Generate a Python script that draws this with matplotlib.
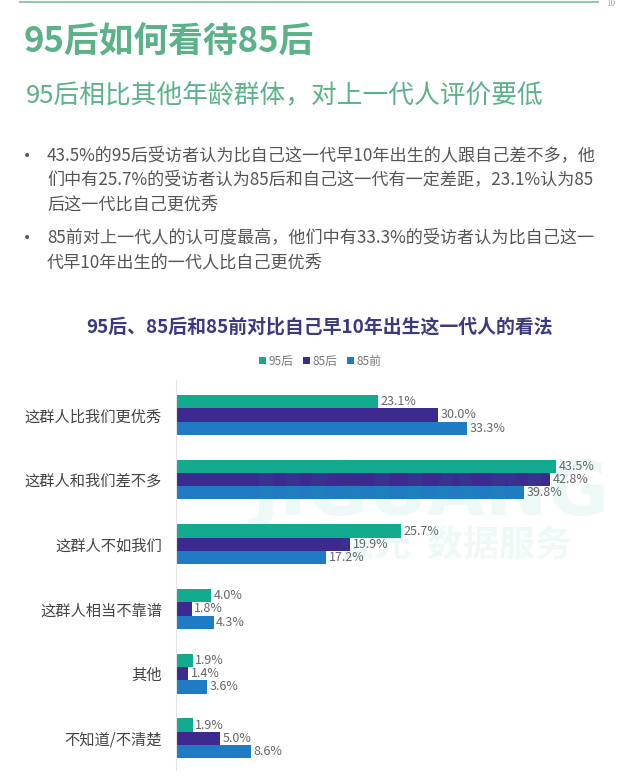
import matplotlib.pyplot as plt
import numpy as np

plt.rcParams['font.family'] = ['Noto Sans CJK SC', 'DejaVu Sans']

categories = ['这群人比我们更优秀', '这群人和我们差不多', '这群人不如我们',
              '这群人相当不靠谱', '其他', '不知道/不清楚']
groups = ['95后', '85后', '85前']
v95h = [23.1, 43.5, 25.7, 4.0, 1.9, 1.9]
v85h = [30.0, 42.8, 19.9, 1.8, 1.4, 5.0]
v85q = [33.3, 39.8, 17.2, 4.3, 3.6, 8.6]
colors = ['#13ab8f', '#3c2a8f', '#1f7bc4']

bullets = [
    '43.5%的95后受访者认为比自己这一代早10年出生的人跟自己差不多，他\n'
    '们中有25.7%的受访者认为85后和自己这一代有一定差距，23.1%认为85\n'
    '后这一代比自己更优秀',
    '85前对上一代人的认可度最高，他们中有33.3%的受访者认为比自己这一\n'
    '代早10年出生的一代人比自己更优秀',
]

fig = plt.figure(figsize=(6.4, 7.84), dpi=100)
W, H = 640, 784

def fx(px):
    return px / W

def fy(py):
    return 1 - py / H

# header
fig.add_artist(plt.Line2D([fx(20), fx(598)], [fy(2), fy(2)], color='#8fcaad', lw=1.5))
fig.text(fx(606), fy(4), '10', fontsize=6, color='#aaaaaa', va='center')
fig.text(fx(24), fy(41), '95后如何看待85后', fontsize=25, fontweight='bold',
         color='#5bb287', va='center')
fig.text(fx(26), fy(95), '95后相比其他年龄群体，对上一代人评价要低', fontsize=18.5,
         color='#5bb287', va='center')

# bullets
by = [147, 229]
for y, txt in zip(by, bullets):
    fig.text(fx(23), fy(y + 9), '•', fontsize=10, color='#555555', va='center',
             family='DejaVu Sans')
    fig.text(fx(47), fy(y), txt, fontsize=12.3, color='#555555', va='top',
             linespacing=1.45)

fig.text(0.5, fy(327), '95后、85后和85前对比自己早10年出生这一代人的看法', fontsize=13.6,
         fontweight='bold', color='#3b3a80', ha='center', va='center')

# watermark
fig.text(fx(430), fy(495), 'JIGUANG', fontsize=54, fontweight='bold', color='#13ab8f',
         alpha=0.07, ha='center', va='center', family='DejaVu Sans', zorder=0)
fig.text(fx(455), fy(545), '极光  数据服务', fontsize=26, fontweight='bold',
         color='#13ab8f', alpha=0.07, ha='center', va='center', zorder=0)

ax = fig.add_axes([fx(176), fy(770), fx(613 - 176), (770 - 380) / H])
ax.patch.set_alpha(0)
y = np.arange(len(categories))
h = 0.205
for off, vals, col, lab in zip([-h, 0, h], [v95h, v85h, v85q], colors, groups):
    bars = ax.barh(y + off, vals, height=h, color=col, label=lab, zorder=2)
    for b, v in zip(bars, vals):
        ax.text(b.get_width() + 0.3, b.get_y() + b.get_height() / 2, f'{v:.1f}%',
                fontsize=9, color='#666666', va='center', ha='left')

ax.set_xlim(0, 50)
ax.set_ylim(5.49, -0.54)
ax.set_yticks(y)
ax.set_yticklabels(categories, fontsize=11, color='#444444')
ax.tick_params(axis='y', length=0, pad=10)
ax.set_xticks([])
for s in ['top', 'right', 'bottom']:
    ax.spines[s].set_visible(False)
ax.spines['left'].set_color('#e4e4e4')

leg = fig.legend(loc='center', bbox_to_anchor=(0.5, fy(361)), ncol=3, frameon=False,
                 fontsize=8.5, handlelength=0.6, handleheight=0.6, handletextpad=0.2,
                 columnspacing=0.8, labelcolor='#777777')

fig.savefig('out.png', dpi=100)
